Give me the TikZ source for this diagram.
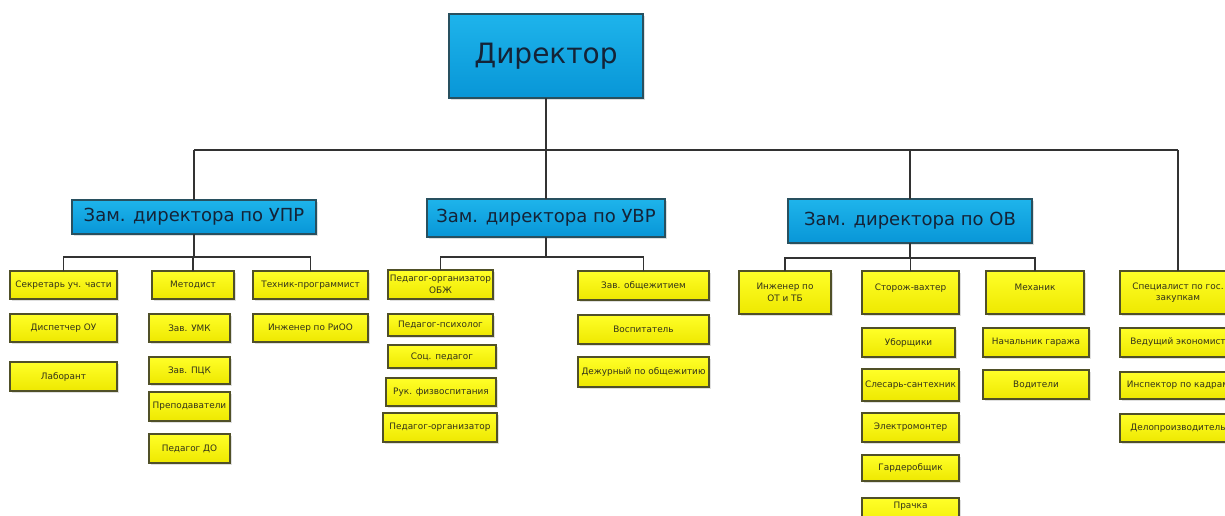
\documentclass[tikz,border=0pt]{standalone}
\usepackage{fontspec}
\setmainfont{DejaVu Sans}
\usetikzlibrary{shadows}
\definecolor{bluetop}{RGB}{30,180,235}
\definecolor{bluebot}{RGB}{8,150,215}
\definecolor{blueedge}{RGB}{40,80,95}
\definecolor{yeltop}{RGB}{255,255,40}
\definecolor{yelbot}{RGB}{238,232,0}
\definecolor{yeledge}{RGB}{80,80,40}
\definecolor{headtext}{RGB}{20,35,55}
\definecolor{smalltext}{RGB}{50,50,25}
\definecolor{conncol}{RGB}{50,50,50}
\tikzset{
  base/.style={rectangle, inner sep=0pt, outer sep=0pt, align=center,
    drop shadow={shadow xshift=1.5pt, shadow yshift=-1.5pt, opacity=0.25}},
  bluebox/.style={base, top color=bluetop, bottom color=bluebot, draw=blueedge,
    line width=1.4pt, text=headtext, font=\fontsize{18}{20}\selectfont},
  dirbox/.style={bluebox, font=\fontsize{28}{32}\selectfont},
  ybox/.style={base, top color=yeltop, bottom color=yelbot, draw=yeledge,
    line width=1.1pt, text=smalltext, font=\fontsize{8.9}{11.5}\selectfont},
  ytop/.style={ybox, text depth=10pt},
  conn/.style={draw=conncol, line width=1.1pt}
}
\newcommand\bx[7]{\node[#1, minimum width={(#5-#3)*1pt}, minimum height={(#6-#4)*1pt}] (#2) at ({(#3+#5)/2},{(#4+#6)/2}) {#7};}
\begin{document}
\begin{tikzpicture}[x=1pt,y=-1pt]
\useasboundingbox (0,0) rectangle (1225,515);
\clip (0,0) rectangle (1225,515);
\fill[white] (0,0) rectangle (1225,515);
% headers
\bx{dirbox}{dir}{449}{14}{643}{98}{Директор}
\bx{bluebox}{upr}{72}{200}{316}{234}{Зам. директора по УПР}
\bx{bluebox}{uvr}{427}{199}{665}{237}{Зам. директора по УВР}
\bx{bluebox}{ov}{788}{199}{1032}{243}{Зам. директора по ОВ}
% UPR group
\bx{ybox}{sec}{10}{271}{117}{299}{Секретарь уч. части}
\bx{ybox}{disp}{10}{314}{117}{342}{Диспетчер ОУ}
\bx{ybox}{lab}{10}{362}{117}{391}{Лаборант}
\bx{ybox}{met}{152}{271}{234}{299}{Методист}
\bx{ybox}{umk}{149}{314}{230}{342}{Зав. УМК}
\bx{ybox}{pck}{149}{357}{230}{384}{Зав. ПЦК}
\bx{ybox}{prep}{149}{392}{230}{421}{Преподаватели}
\bx{ybox}{pdo}{149}{434}{230}{463}{Педагог ДО}
\bx{ybox}{tech}{253}{271}{368}{299}{Техник-программист}
\bx{ybox}{ingr}{253}{314}{368}{342}{Инженер по РиОО}
% UVR group
\bx{ybox}{obzh}{388}{270}{493}{299}{Педагог-организатор\\ОБЖ}
\bx{ybox}{psy}{388}{314}{493}{336}{Педагог-психолог}
\bx{ybox}{soc}{388}{345}{496}{368}{Соц. педагог}
\bx{ybox}{ruk}{386}{378}{496}{406}{Рук. физвоспитания}
\bx{ybox}{porg}{383}{413}{497}{442}{Педагог-организатор}
\bx{ybox}{zob}{578}{271}{709}{300}{Зав. общежитием}
\bx{ybox}{vosp}{578}{315}{709}{344}{Воспитатель}
\bx{ybox}{dezh}{578}{357}{709}{387}{Дежурный по общежитию}
% OV group
\bx{ybox}{ingot}{739}{271}{831}{314}{Инженер по\\ОТ и ТБ}
\bx{ytop}{stor}{862}{271}{959}{314}{Сторож-вахтер}
\bx{ytop}{mech}{986}{271}{1084}{314}{Механик}
\bx{ybox}{ubor}{862}{328}{955}{357}{Уборщики}
\bx{ybox}{sles}{862}{369}{959}{401}{Слесарь-сантехник}
\bx{ybox}{elec}{862}{413}{959}{442}{Электромонтер}
\bx{ybox}{gard}{862}{455}{959}{481}{Гардеробщик}
\bx{ybox}{prach}{862}{498}{959}{532}{Прачка\\[8pt]}
\bx{ybox}{gar}{983}{328}{1089}{357}{Начальник гаража}
\bx{ybox}{vod}{983}{370}{1089}{399}{Водители}
% right column
\bx{ybox}{spec}{1120}{271}{1236}{314}{Специалист по гос.\\закупкам}
\bx{ybox}{econ}{1120}{328}{1236}{357}{Ведущий экономист}
\bx{ybox}{insp}{1120}{372}{1236}{399}{Инспектор по кадрам}
\bx{ybox}{delo}{1120}{414}{1236}{442}{Делопроизводитель}
% connectors: top level
\coordinate (bus) at (0,150);
\draw[conn] (dir.south) -- (dir.south |- bus);
\draw[conn] (upr.north |- bus) -- (spec.north |- bus);
\draw[conn] (upr.north) -- (upr.north |- bus);
\draw[conn] (uvr.north) -- (uvr.north |- bus);
\draw[conn] (ov.north) -- (ov.north |- bus);
\draw[conn] (spec.north) -- (spec.north |- bus);
% UPR sub-bus
\coordinate (b1) at (0,257);
\draw[conn] (upr.south) -- (upr.south |- b1);
\draw[conn] (sec.north) -- (sec.north |- b1) -- (tech.north |- b1) -- (tech.north);
\draw[conn] (met.north) -- (met.north |- b1);
% UVR sub-bus
\draw[conn] (uvr.south) -- (uvr.south |- b1);
\draw[conn] (obzh.north) -- (obzh.north |- b1) -- (zob.north |- b1) -- (zob.north);
% OV sub-bus
\coordinate (b3) at (0,258);
\draw[conn] (ov.south) -- (ov.south |- b3);
\draw[conn] (ingot.north) -- (ingot.north |- b3) -- (mech.north |- b3) -- (mech.north);
\draw[conn] (stor.north) -- (stor.north |- b3);
\end{tikzpicture}
\end{document}
